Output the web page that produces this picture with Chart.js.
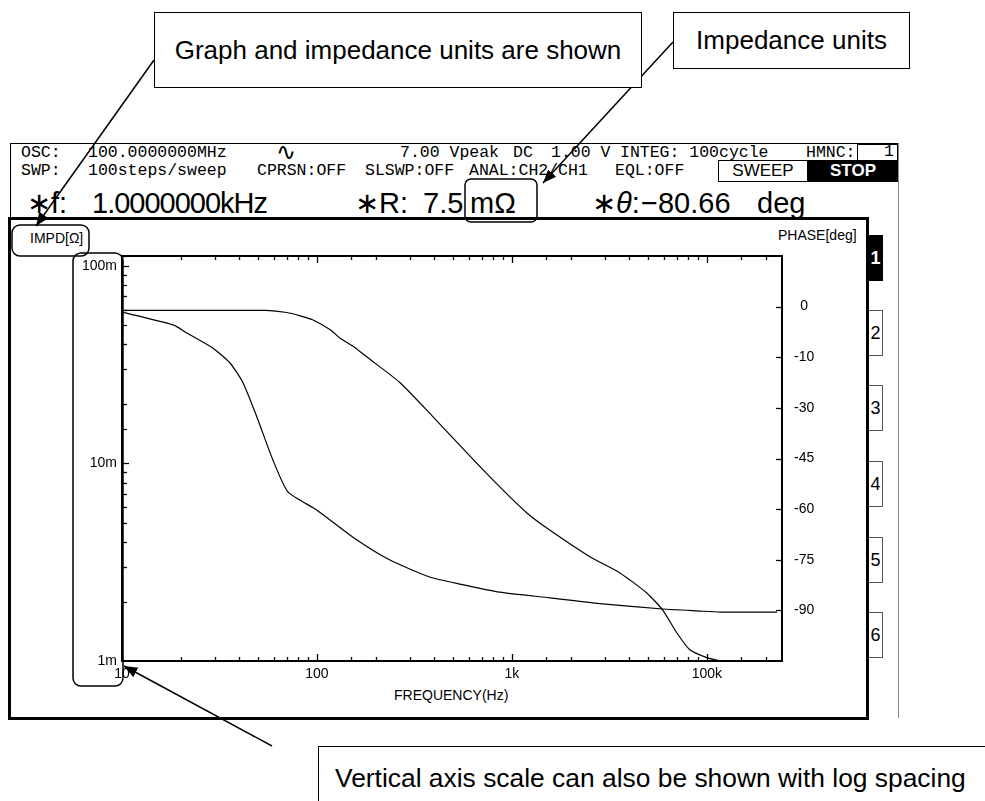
<!DOCTYPE html>
<html>
<head>
<meta charset="utf-8">
<title>Impedance / phase sweep</title>
<script src="https://cdn.jsdelivr.net/npm/chart.js@4.4.1/dist/chart.umd.min.js"></script>
<style>
  body { margin:0; width:985px; height:801px; position:relative; overflow:hidden; background:#fff; font-family:"Liberation Sans", Arial, sans-serif; color:#000; }
  .a { position:absolute; white-space:pre; }
  .m { font-family:"Liberation Mono","DejaVu Sans Mono",monospace; font-size:16.5px; line-height:20px; }
  .big { font-size:29px; line-height:30px; }
  .lbl { font-size:14px; line-height:16px; }
  .note { position:absolute; background:#fff; border:1.5px solid #000; box-sizing:border-box; display:flex; align-items:center; justify-content:center; font-size:26px; white-space:nowrap; }
  .tab { position:absolute; left:869px; width:14px; height:46px; box-sizing:border-box; border:1px solid #555; border-left:none; background:#fff; font-size:18px; line-height:44px; text-align:center; }
  canvas, svg { position:absolute; left:0; top:0; }
</style>
</head>
<body>
<!-- instrument frame -->
<div class="a" style="left:10px;top:143px;width:888px;height:76px;border-top:1px solid #000;border-left:1px solid #000;"></div>
<div class="a" style="left:898px;top:143px;width:0;height:575px;border-left:1px solid #888;"></div>
<div class="a" style="left:8px;top:217px;width:861px;height:503px;border:3px solid #000;box-sizing:border-box;"></div>

<!-- status rows -->
<span class="a m" style="left:21px;top:143px">OSC:</span>
<span class="a m" style="left:88px;top:143px">100.0000000MHz</span>
<span class="a" style="left:276px;top:139px;font-family:'DejaVu Sans';font-size:24px;line-height:26px;">∿</span>
<span class="a m" style="left:400px;top:143px">7.00 Vpeak</span>
<span class="a m" style="left:513px;top:143px">DC</span>
<span class="a m" style="left:551px;top:143px">1.00 V</span>
<span class="a m" style="left:620px;top:143px">INTEG: 100cycle</span>
<span class="a m" style="left:806px;top:143px">HMNC:</span>
<div class="a" style="left:857px;top:144px;width:41px;height:17px;border:1px solid #000;box-sizing:border-box;"></div>
<span class="a m" style="left:884px;top:142px">1</span>

<span class="a m" style="left:21px;top:161px">SWP:</span>
<span class="a m" style="left:88px;top:161px">100steps/sweep</span>
<span class="a m" style="left:257px;top:161px">CPRSN:OFF</span>
<span class="a m" style="left:365px;top:161px">SLSWP:OFF</span>
<span class="a m" style="left:469px;top:161px">ANAL:CH2/CH1</span>
<span class="a m" style="left:615px;top:161px">EQL:OFF</span>
<div class="a" style="left:718px;top:160px;width:90px;height:22px;border:1px solid #000;box-sizing:border-box;font-size:17px;line-height:20px;text-align:center;">SWEEP</div>
<div class="a" style="left:808px;top:160px;width:90px;height:22px;background:#000;color:#fff;font-weight:bold;font-size:17px;line-height:22px;text-align:center;">STOP</div>

<span class="a big" style="left:27px;top:188px">∗f:</span>
<span class="a big" style="left:92px;top:188px;letter-spacing:-1px">1.0000000kHz</span>
<span class="a big" style="left:355px;top:188px">∗R:</span>
<span class="a big" style="left:423px;top:188px">7.5</span>
<span class="a big" style="left:470px;top:188px">mΩ</span>
<span class="a big" style="left:592px;top:188px">∗<i>θ</i>:</span>
<span class="a big" style="left:641px;top:188px">−80.66</span>
<span class="a big" style="left:757px;top:188px">deg</span>

<!-- graph labels -->
<span class="a lbl" style="left:30px;top:230px">IMPD[Ω]</span>
<span class="a lbl" style="left:778px;top:227px">PHASE[deg]</span>
<span class="a lbl" style="left:394px;top:687px">FREQUENCY(Hz)</span>

<!-- channel tabs -->
<div class="tab" style="top:235px;background:#000;color:#fff;font-weight:bold;border-color:#000">1</div>
<div class="tab" style="top:310px">2</div>
<div class="tab" style="top:385px">3</div>
<div class="tab" style="top:461px">4</div>
<div class="tab" style="top:537px">5</div>
<div class="tab" style="top:612px">6</div>

<canvas id="chart" width="985" height="801"></canvas>

<!-- callouts -->
<svg width="985" height="801" viewBox="0 0 985 801">
  <defs>
    <marker id="head" viewBox="0 0 10 10" refX="10" refY="5" markerWidth="9" markerHeight="9" orient="auto">
      <path d="M0,1 L10,5 L0,9 z" fill="#000"/>
    </marker>
  </defs>
  <g fill="none" stroke="#000" stroke-width="1.5">
    <rect x="12" y="225" width="77" height="31" rx="8"/>
    <rect x="73" y="253" width="50" height="433" rx="8"/>
    <rect x="465" y="179" width="72" height="43" rx="6"/>
    <line x1="154" y1="60" x2="36" y2="226" marker-end="url(#head)"/>
    <line x1="673" y1="42" x2="543" y2="183" marker-end="url(#head)"/>
    <line x1="272" y1="746" x2="124" y2="666" marker-end="url(#head)"/>
  </g>
</svg>
<div class="note" style="left:154px;top:12px;width:488px;height:76px;">Graph and impedance units are shown</div>
<div class="note" style="left:673px;top:12px;width:237px;height:57px;">Impedance units</div>
<div class="note" style="left:318px;top:746px;width:690px;height:70px;justify-content:flex-start;align-items:flex-start;padding:16px 0 0 16px;font-size:26.4px;">Vertical axis scale can also be shown with log spacing</div>

<script>
// sweep readings (frequency in Hz)
const impdFreq = [10, 30, 55, 70, 82, 95, 117, 131, 157, 180, 267, 394, 588, 867, 1194, 1510, 2512, 3581, 4920, 5940, 7010, 8180, 10000, 11670, 13900]
const impdOhm = [0.0594, 0.0594, 0.0594, 0.0580, 0.0558, 0.0533, 0.0474, 0.0431, 0.0385, 0.0346, 0.0256, 0.0172, 0.0113, 0.0076, 0.00561, 0.00471, 0.00337, 0.00279, 0.00221, 0.00181, 0.00139, 0.00114, 0.00104, 0.00100, 0.00092]

const phaseFreq = [10, 18.3, 21.5, 29.3, 35.8, 41.8, 49.2, 59.4, 71, 100, 153, 237, 379, 541, 867, 1567, 2825, 5940, 9200, 11670, 22900]
const phaseDeg = [-1.6, -5.4, -7.8, -12.3, -16.7, -22.6, -32.7, -45.4, -54.9, -60.3, -68.3, -75.1, -80.1, -82.2, -84.6, -86.3, -88.0, -89.6, -90.2, -90.5, -90.5]

// tick labels as printed on the screen
const freqTickValues = [10, 100, 1000, 10000]
const freqTickLabels = ['10', '100', '1k', '100k']
const impdTickValues = [0.001, 0.01, 0.1]
const impdTickLabels = ['1m', '10m', '100m']
const phaseTickValues = [0, -15, -30, -45, -60, -75, -90]
const phaseTickLabels = ['0', '-10', '-30', '-45', '-60', '-75', '-90']

function isDecade(v){
  const e = Math.log10(v)
  return Math.abs(e - Math.round(e)) < 1e-6
}
function findLabel(values, labels, v){
  for (let i = 0; i < values.length; i++){
    if (Math.abs(values[i] - v) <= Math.abs(values[i]) * 1e-6 + 1e-9) return labels[i]
  }
  return ''
}

// inward tick marks and the plot frame
const frameTicks = {
  id: 'frameTicks',
  afterDraw(chart){
    const {ctx, chartArea: a, scales} = chart
    const seg = (x1, y1, x2, y2) => { ctx.beginPath(); ctx.moveTo(x1, y1); ctx.lineTo(x2, y2); ctx.stroke() }
    ctx.save()
    ctx.strokeStyle = '#000'
    ctx.lineWidth = 1.3
    scales.x.ticks.forEach(t => {
      const px = Math.round(scales.x.getPixelForValue(t.value)) + 0.5
      if (px < a.left || px > a.right) return
      const len = isDecade(t.value) ? 7 : 4
      seg(px, a.bottom, px, a.bottom - len)
      seg(px, a.top, px, a.top + len)
    })
    scales.y.ticks.forEach(t => {
      const py = Math.round(scales.y.getPixelForValue(t.value)) + 0.5
      if (py < a.top || py > a.bottom) return
      const len = isDecade(t.value) ? 7 : 5
      seg(a.left, py, a.left + len, py)
    })
    phaseTickValues.forEach(v => {
      const py = Math.round(scales.y2.getPixelForValue(v)) + 0.5
      seg(a.right, py, a.right - 6, py)
    })
    ctx.lineWidth = 2
    ctx.strokeRect(a.left, a.top, a.right - a.left, a.bottom - a.top)
    ctx.restore()
  }
}

const tickFont = {family: '"Liberation Sans", Arial, sans-serif', size: 14}

new Chart(document.getElementById('chart'), {
  type: 'line',
  data: {
    datasets: [
      {
        label: 'IMPD',
        data: impdFreq.map((f, i) => ({x: f, y: impdOhm[i]})),
        yAxisID: 'y',
        borderColor: '#000',
        borderWidth: 1.2,
        pointRadius: 0,
        tension: 0.2,
      },
      {
        label: 'PHASE',
        data: phaseFreq.map((f, i) => ({x: f, y: phaseDeg[i]})),
        yAxisID: 'y2',
        borderColor: '#000',
        borderWidth: 1.2,
        pointRadius: 0,
        tension: 0.2,
      },
    ]
  },
  options: {
    responsive: false,
    animation: false,
    layout: {padding: {top: 256, left: 0, right: 0, bottom: 0}},
    plugins: {
      legend: {display: false},
      tooltip: {enabled: false},
    },
    scales: {
      x: {
        type: 'logarithmic',
        position: 'bottom',
        min: 10,
        max: 24300,
        grid: {display: false, drawTicks: false},
        border: {display: false},
        ticks: {
          autoSkip: false, maxRotation: 0, padding: 5, color: '#000', font: tickFont,
          callback: v => findLabel(freqTickValues, freqTickLabels, v),
        },
        afterFit: s => { s.height = 140 },
      },
      y: {
        type: 'logarithmic',
        position: 'left',
        min: 0.001,
        max: 0.112,
        grid: {display: false, drawTicks: false},
        border: {display: false},
        ticks: {
          autoSkip: false, padding: 5, color: '#000', font: tickFont,
          callback: v => findLabel(impdTickValues, impdTickLabels, v),
        },
        afterFit: s => { s.width = 122 },
      },
      y2: {
        type: 'linear',
        position: 'right',
        min: -105,
        max: 15,
        grid: {display: false, drawTicks: false},
        border: {display: false},
        ticks: {
          stepSize: 15, autoSkip: false, padding: 12, crossAlign: 'center', color: '#000', font: tickFont,
          callback: v => findLabel(phaseTickValues, phaseTickLabels, v),
        },
        afterFit: s => { s.width = 203 },
      },
    },
  },
  plugins: [frameTicks],
})
</script>
</body>
</html>
